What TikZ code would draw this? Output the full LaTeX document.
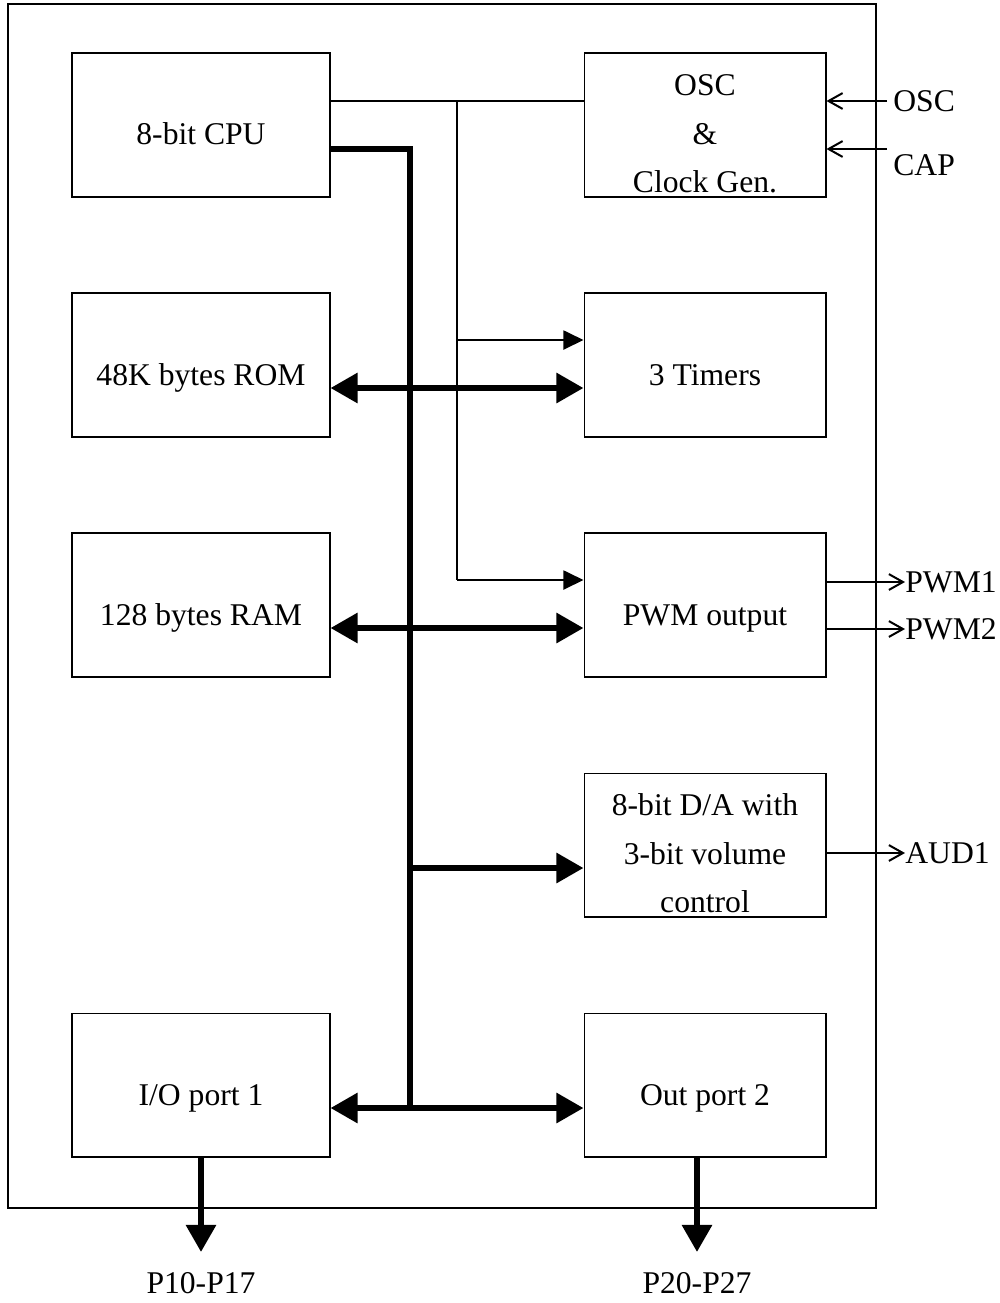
\documentclass[tikz,border=0pt]{standalone}
\usepackage{fontspec}
\setmainfont{Liberation Serif}
\usetikzlibrary{arrows.meta}
\begin{document}
\begin{tikzpicture}[x=0.02cm,y=-0.02cm,
  box/.style={draw, line width=0.6pt, minimum height=2.88cm, inner sep=0pt},
  lbox/.style={box, minimum width=5.16cm},
  rbox/.style={box, minimum width=4.84cm},
  lbl/.style={font=\fontsize{18}{22}\selectfont, anchor=base, inner sep=0pt},
  pin/.style={font=\fontsize{18}{22}\selectfont, inner sep=0pt},
  sig/.style={line width=0.04cm},
  bus/.style={line width=0.12cm},
  bigtip/.tip={Triangle[length=15.4pt,width=16.5pt]},
  smalltip/.tip={Triangle[length=11.4pt,width=10.8pt]},
  opentip/.tip={Straight Barb[length=8pt,width=9pt]}
]
\useasboundingbox (0,0) rectangle (1000,1303);
\draw[line width=0.6pt] (8,4) rectangle (876,1208);

% boxes
\node[lbox] (cpu) at (201,125) {};
\node[rbox] (osc) at (705,125) {};
\node[lbox] (rom) at (201,365) {};
\node[rbox] (tim) at (705,365) {};
\node[lbox] (ram) at (201,605) {};
\node[rbox] (pwm) at (705,605) {};
\node[rbox] (da) at (705,845) {};
\node[lbox] (io) at (201,1085) {};
\node[rbox] (out) at (705,1085) {};

% box texts
\node[lbl] (tcpu) at (201,144) {8-bit CPU};
\node[lbl] (tosc1) at (705,95) {OSC};
\node[lbl] (tosc2) at (705,144) {\&};
\node[lbl] (tosc3) at (705,192) {Clock Gen.};
\node[lbl] (trom) at (201,385) {48K bytes ROM};
\node[lbl] (ttim) at (705,385) {3 Timers};
\node[lbl] (tram) at (201,625) {128 bytes RAM};
\node[lbl] (tpwm) at (705,625) {PWM output};
\node[lbl] (tda1) at (705,815) {8-bit D/A with};
\node[lbl] (tda2) at (705,864) {3-bit volume};
\node[lbl] (tda3) at (705,912) {control};
\node[lbl] (tio) at (201,1105) {I/O port 1};
\node[lbl] (tout) at (705,1105) {Out port 2};

% pins
\node[pin, anchor=west] (posc) at (893,101) {OSC};
\node[pin, anchor=west] (pcap) at (893,165) {CAP};
\node[pin, anchor=west] (ppwm1) at (905,582) {PWM1};
\node[pin, anchor=west] (ppwm2) at (905,629) {PWM2};
\node[pin, anchor=west] (paud) at (905,853) {AUD1};
\node[pin] (pp1) at (201,1283) {P10-P17};
\node[pin] (pp2) at (697,1283) {P20-P27};

% helper coordinates
\coordinate (t1) at (457,101);
\coordinate (t2) at (457,340);
\coordinate (t3) at (457,580);
\coordinate (b1) at (410,149);
\coordinate (b2) at (410,1108);
\coordinate (b3) at (410,868);
\coordinate (r1) at (410,388);
\coordinate (r2) at (410,628);
\coordinate (capin) at (887,149);
\coordinate (p1end) at (201,1252);
\coordinate (p2start) at (697,1157);
\coordinate (p2end) at (697,1252);

% clock lines
\draw[sig] (cpu.east |- t1) -- (osc.west |- t1);
\draw[sig] (t1) -- (t3);
\draw[sig, -smalltip] (t2) -- (tim.west |- t2);
\draw[sig, -smalltip] (t3) -- (pwm.west |- t3);

% bus
\draw[bus] (cpu.east |- b1) -- (b1) -- (b2);
\draw[bus, bigtip-bigtip] (rom.east |- r1) -- (tim.west |- r1);
\draw[bus, bigtip-bigtip] (ram.east |- r2) -- (pwm.west |- r2);
\draw[bus, -bigtip] (b3) -- (da.west |- b3);
\draw[bus, bigtip-bigtip] (io.east |- b2) -- (out.west |- b2);

% external pins
\draw[sig, -opentip] (posc.west) ++(-6,0) -- (osc.east |- posc.west);
\draw[sig, -opentip] (capin) -- (osc.east |- capin);
\draw[sig, -opentip] (pwm.east |- ppwm1.west) -- (ppwm1.west);
\draw[sig, -opentip] (pwm.east |- ppwm2.west) -- (ppwm2.west);
\draw[sig, -opentip] (da.east |- paud.west) -- (paud.west);
\draw[bus, -bigtip] (io.south) -- (p1end);
\draw[bus, -bigtip] (p2start) -- (p2end);
\end{tikzpicture}
\end{document}
